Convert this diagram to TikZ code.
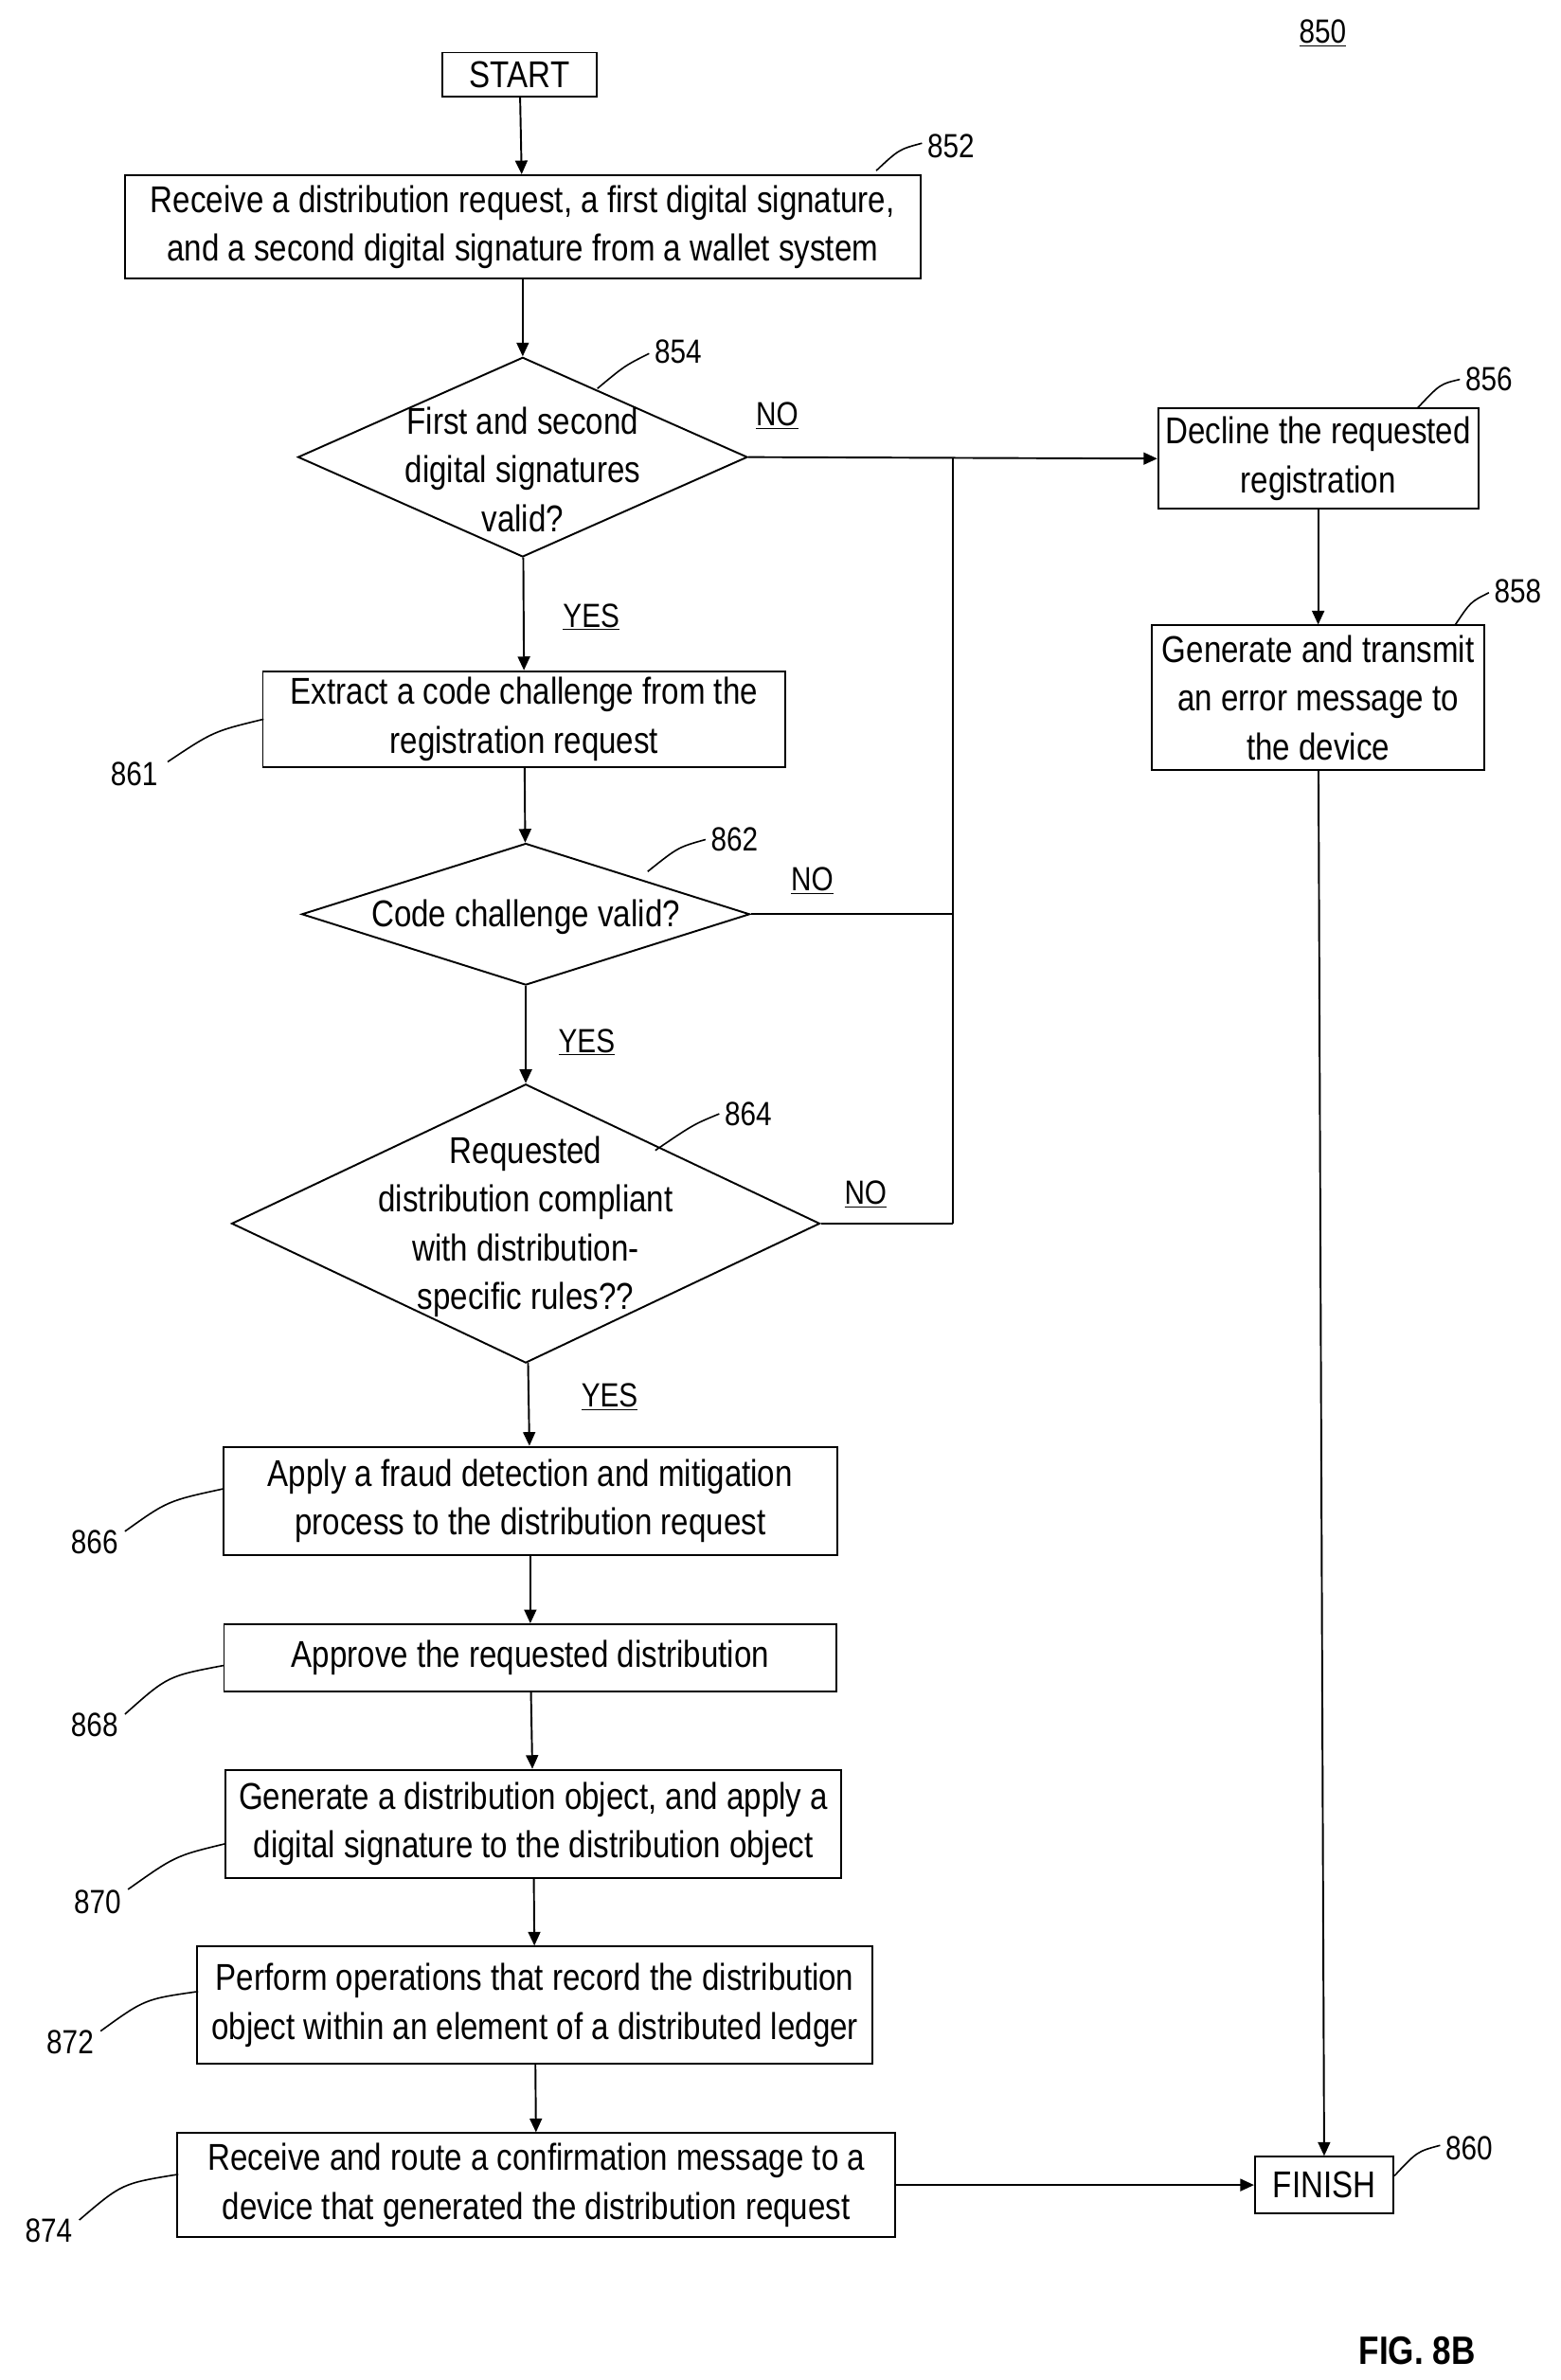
\documentclass[tikz,border=0pt]{standalone}
\usepackage{fontspec}
\setmainfont{Liberation Sans}[FakeStretch=0.84]
\usetikzlibrary{shapes.geometric,arrows.meta}
\begin{document}
\begin{tikzpicture}[x=1pt,y=-1pt,
  every node/.style={font=\fontsize{24.5}{32}\selectfont},
  box/.style={draw,line width=1.2pt,align=center,inner sep=0pt},
  dia/.style={draw,line width=1.2pt,diamond,inner sep=0pt,align=center},
  lab/.style={font=\fontsize{22}{26}\selectfont},
  ln/.style={line width=1.2pt},
  arr/.style={line width=1.2pt,-{Triangle[length=9pt,width=8pt]}},
  lead/.style={line width=1pt}]
\useasboundingbox (0,0) rectangle (1024,1562);
\node[lab] (f850) at (868,22) {\underline{850}};
\node[box,minimum width=101,minimum height=29] (start) at (341,49) {START};
\node[box,minimum width=522,minimum height=68] (n852) at (343,149) {Receive a distribution request, a first digital signature,\\and a second digital signature from a wallet system};
\node[dia,minimum width=295,minimum height=131] (n854) at (343,300) {};
\node[align=center] (t854) at (343,308) {First and second\\digital signatures\\valid?};
\node[box,minimum width=210,minimum height=66] (n856) at (865,301) {Decline the requested\\registration};
\node[box,minimum width=218,minimum height=95] (n858) at (865,458) {Generate and transmit\\an error message to\\the device};
\node[box,minimum width=343,minimum height=63] (n861) at (344,472) {Extract a code challenge from the\\registration request};
\node[dia,minimum width=294,minimum height=93] (n862) at (345,600) {};
\node (t862) at (345,602) {Code challenge valid?};
\node[dia,minimum width=386,minimum height=183] (n864) at (345,803) {};
\node[align=center] (t864) at (345,805) {Requested\\distribution compliant\\with distribution-\\specific rules??};
\node[box,minimum width=403,minimum height=71] (n866) at (348,985) {Apply a fraud detection and mitigation\\process to the distribution request};
\node[box,minimum width=402,minimum height=44] (n868) at (348,1088) {Approve the requested distribution};
\node[box,minimum width=404,minimum height=71] (n870) at (350,1197) {Generate a distribution object, and apply a\\digital signature to the distribution object};
\node[box,minimum width=443,minimum height=77] (n872) at (351,1316) {Perform operations that record the distribution\\object within an element of a distributed ledger};
\node[box,minimum width=471,minimum height=68] (n874) at (352,1434) {Receive and route a confirmation message to a\\device that generated the distribution request};
\node[box,minimum width=91,minimum height=37] (fin) at (869,1434) {FINISH};
\coordinate (j1) at (625,300);
\coordinate (j2) at (625,600);
\coordinate (j3) at (625,803);
\draw[arr] (start) -- (n852);
\draw[arr] (n852) -- (n854);
\draw[arr] (n854) -- (n861);
\draw[arr] (n861) -- (n862);
\draw[arr] (n862) -- (n864);
\draw[arr] (n864) -- (n866);
\draw[arr] (n866) -- (n868);
\draw[arr] (n868) -- (n870);
\draw[arr] (n870) -- (n872);
\draw[arr] (n872) -- (n874);
\draw[arr] (n874) -- (fin);
\draw[arr] (n854.east) -- (n856.west);
\draw[ln] (n862.east) -- (j2);
\draw[ln] (n864.east) -- (j3);
\draw[ln] (j1) -- (j3);
\draw[arr] (n856) -- (n858);
\draw[arr] (n858) -- (fin);
\node[lab] (no1) at (510,273) {\underline{NO}};
\node[lab] (no2) at (533,578) {\underline{NO}};
\node[lab] (no3) at (568,784) {\underline{NO}};
\node[lab] (y1) at (388,405) {\underline{YES}};
\node[lab] (y2) at (385,684) {\underline{YES}};
\node[lab] (y3) at (400,917) {\underline{YES}};
\node[lab] (l852) at (624,96) {852};
\draw[lead] (575,112) .. controls (590,98) .. (605,94);
\node[lab] (l854) at (445,231) {854};
\draw[lead] (392,255) .. controls (410,240) .. (426,232);
\node[lab] (l856) at (977,249) {856};
\draw[lead] (930,268) .. controls (945,252) .. (958,249);
\node[lab] (l858) at (996,388) {858};
\draw[lead] (955,410) .. controls (965,395) .. (977,389);
\node[lab] (l861) at (88,508) {861};
\draw[lead] (110,500) .. controls (140,480) .. (173,472);
\node[lab] (l862) at (482,551) {862};
\draw[lead] (425,572) .. controls (445,556) .. (463,551);
\node[lab] (l864) at (491,731) {864};
\draw[lead] (430,755) .. controls (455,738) .. (472,731);
\node[lab] (l860) at (964,1410) {860};
\draw[lead] (915,1428) .. controls (930,1412) .. (945,1408);
\node[lab] (l866) at (62,1012) {866};
\draw[lead] (82,1005) .. controls (110,985) .. (147,977);
\node[lab] (l868) at (62,1132) {868};
\draw[lead] (82,1125) .. controls (110,1100) .. (147,1093);
\node[lab] (l870) at (64,1248) {870};
\draw[lead] (84,1240) .. controls (115,1218) .. (148,1210);
\node[lab] (l872) at (46,1340) {872};
\draw[lead] (66,1333) .. controls (95,1312) .. (130,1307);
\node[lab] (l874) at (32,1464) {874};
\draw[lead] (52,1457) .. controls (80,1433) .. (117,1427);
\node[font=\fontsize{26}{30}\selectfont\bfseries] (fig) at (930,1543) {FIG. 8B};
\end{tikzpicture}
\end{document}
